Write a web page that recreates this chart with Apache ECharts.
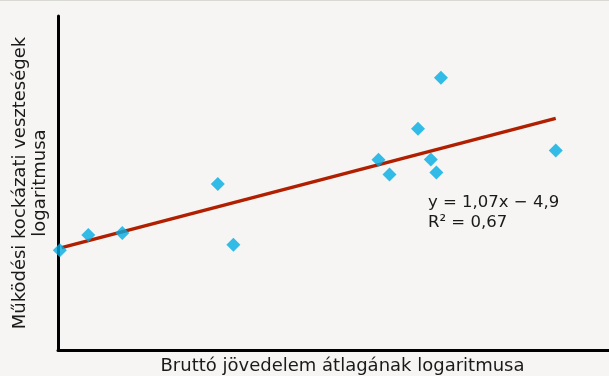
<!DOCTYPE html>
<html>
<head>
<meta charset="utf-8">
<script src="https://cdn.jsdelivr.net/npm/echarts@6/dist/echarts.min.js"></script>
<style>
html,body{margin:0;padding:0;background:#f6f5f3;}
#c{width:609px;height:376px;border-top:1px solid #d8d8d4;box-sizing:border-box;}
</style>
</head>
<body>
<div id="c"></div>
<script>
// Scatter points: [log gross income, log operational risk losses]
const pointX = [12.02, 12.33, 12.70, 13.74, 13.91, 15.49, 15.61, 15.92, 16.06, 16.12, 16.17, 17.42];
const pointY = [7.88, 8.56, 8.65, 10.85, 8.13, 11.94, 11.28, 13.34, 11.95, 11.37, 15.63, 12.36];
// Trend line end points (y = 1,07x − 4,9)
const trendX = [12.04, 17.42];
const trendY = [8.0, 13.8];
const xTitle = 'Bruttó jövedelem átlagának logaritmusa';
const yTitle = 'Működési kockázati veszteségek\nlogaritmusa';
const eqText = 'y = 1,07x − 4,9\nR² = 0,67';

const FONT = 'DejaVu Sans';
const chart = echarts.init(document.getElementById('c'));
chart.setOption({
  backgroundColor: '#f6f5f3',
  animation: false,
  grid: {left: 58, right: 0, top: 15, bottom: 26, outerBoundsMode: 'none', containLabel: false},
  title: {
    text: eqText, left: 423, top: 187,
    textStyle: {fontFamily: FONT, fontSize: 16.5, fontWeight: 'normal', color: '#1a1a1a', lineHeight: 20}
  },
  xAxis: {
    type: 'value', min: 12, max: 18,
    name: xTitle, nameLocation: 'middle', nameGap: 7,
    nameTextStyle: {fontFamily: FONT, fontSize: 18, color: '#1a1a1a', padding: [0, 0, 0, 18]},
    axisLine: {show: true, lineStyle: {color: '#000', width: 3}},
    axisTick: {show: false}, axisLabel: {show: false}, splitLine: {show: false}
  },
  yAxis: {
    type: 'value', min: 3.4, max: 18.4,
    name: yTitle, nameLocation: 'middle', nameGap: 8,
    nameTextStyle: {fontFamily: FONT, fontSize: 18, color: '#1a1a1a', lineHeight: 20},
    axisLine: {show: true, lineStyle: {color: '#000', width: 3}},
    axisTick: {show: false}, axisLabel: {show: false}, splitLine: {show: false}
  },
  series: [
    {
      type: 'line',
      data: trendX.map((x, i) => [x, trendY[i]]),
      symbol: 'none',
      lineStyle: {color: '#b02000', width: 3.5},
      z: 2
    },
    {
      type: 'scatter',
      data: pointX.map((x, i) => [x, pointY[i]]),
      symbol: 'diamond',
      symbolSize: 14,
      itemStyle: {color: '#00ade2'},
      z: 3
    }
  ]
});
</script>
</body>
</html>
